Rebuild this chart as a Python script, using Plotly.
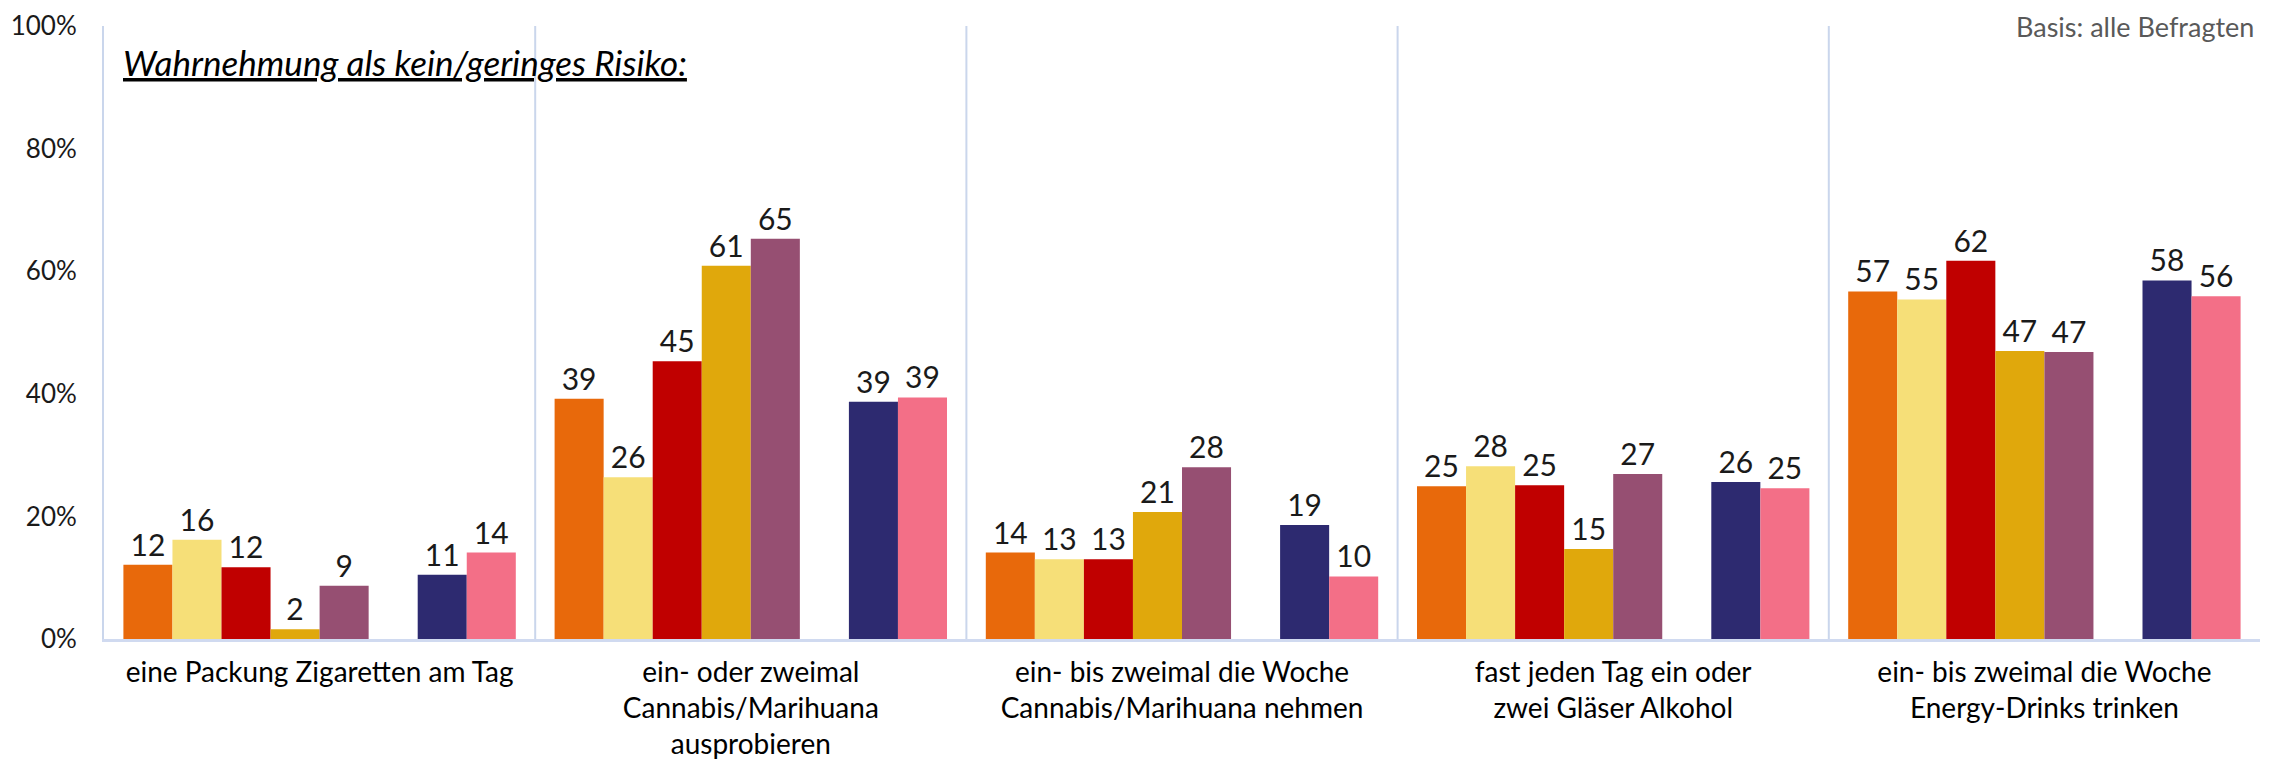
import plotly.graph_objects as go

categories = [
    "eine Packung Zigaretten am Tag",
    "ein- oder zweimal<br>Cannabis/Marihuana<br>ausprobieren",
    "ein- bis zweimal die Woche<br>Cannabis/Marihuana nehmen",
    "fast jeden Tag ein oder<br>zwei Gläser Alkohol",
    "ein- bis zweimal die Woche<br>Energy-Drinks trinken",
]

series_names = ["Gruppe 1", "Gruppe 2", "Gruppe 3", "Gruppe 4", "Gruppe 5", "Gruppe 6", "Gruppe 7"]
s1 = [12.1, 39.2, 14.1, 24.9, 56.7]
s2 = [16.2, 26.4, 13.0, 28.2, 55.4]
s3 = [11.7, 45.3, 13.0, 25.1, 61.7]
s4 = [1.6, 60.9, 20.7, 14.7, 47.0]
s5 = [8.7, 65.3, 28.0, 26.9, 46.8]
s6 = [10.5, 38.7, 18.6, 25.6, 58.5]
s7 = [14.1, 39.4, 10.2, 24.6, 55.9]

l1 = ["12", "39", "14", "25", "57"]
l2 = ["16", "26", "13", "28", "55"]
l3 = ["12", "45", "13", "25", "62"]
l4 = ["2", "61", "21", "15", "47"]
l5 = ["9", "65", "28", "27", "47"]
l6 = ["11", "39", "19", "26", "58"]
l7 = ["14", "39", "10", "25", "56"]

colors = ["#E8690B", "#F6DF78", "#C00000", "#E0A80C", "#964F72", "#2D2A70", "#F36F87"]

y_ticks = [0, 20, 40, 60, 80, 100]
y_tick_labels = ["0%", "20%", "40%", "60%", "80%", "100%"]

FONT = "Lato, 'Open Sans', sans-serif"

fig = go.Figure()
series = [s1, s2, s3, s4, s5, s6, s7]
labels = [l1, l2, l3, l4, l5, l6, l7]
for i, (name, vals, labs) in enumerate(zip(series_names, series, labels)):
    if i == 5:
        # empty slot between the two groups of bars
        fig.add_trace(go.Bar(x=categories, y=[None] * len(categories), name="",
                             showlegend=False, hoverinfo="skip", marker_color="rgba(0,0,0,0)"))
    fig.add_trace(go.Bar(
        x=categories, y=vals, name=name,
        marker=dict(color=colors[i], line=dict(width=0)),
        text=labs,
        textposition="outside",
        constraintext="none",
        cliponaxis=False,
        textfont=dict(family=FONT, size=30, color="#1a1a1a"),
    ))

# separators between category blocks
for k in range(1, len(categories)):
    fig.add_shape(type="line", xref="x", yref="paper", x0=k - 0.5, x1=k - 0.5, y0=0, y1=1,
                  line=dict(color="#CAD6EC", width=2), layer="below")

fig.add_annotation(
    text="<i><u>Wahrnehmung als kein/geringes Risiko:</u></i>",
    xref="paper", yref="paper", x=0.008, y=0.978, xanchor="left", yanchor="top",
    showarrow=False, font=dict(family=FONT, size=35, color="#000000"),
)
fig.add_annotation(
    text="Basis: alle Befragten",
    xref="paper", yref="paper", x=0.998, y=1.029, xanchor="right", yanchor="top",
    showarrow=False, font=dict(family=FONT, size=27, color="#595959"),
)

fig.update_layout(
    width=2264, height=755,
    margin=dict(l=96, r=12, t=18, b=124),
    paper_bgcolor="white", plot_bgcolor="white",
    barmode="group", bargap=0.09, bargroupgap=0,
    showlegend=False,
    font=dict(family=FONT, size=28, color="#000000"),
    xaxis=dict(
        showgrid=False, showline=True, linecolor="#D0DAF0", linewidth=3,
        ticks="", tickfont=dict(family=FONT, size=28, color="#000000"),
        ticklabelstandoff=6, fixedrange=True, automargin=False,
    ),
    yaxis=dict(
        range=[0, 100], tickvals=y_ticks, ticktext=y_tick_labels,
        showgrid=False, showline=True, linecolor="#CAD6EC", linewidth=2,
        ticks="", zeroline=False, automargin=False,
        tickfont=dict(family=FONT, size=26, color="#1a1a1a"),
        ticklabelstandoff=20, ticklabeloverflow="allow",
    ),
)

fig.write_html("out.html")
